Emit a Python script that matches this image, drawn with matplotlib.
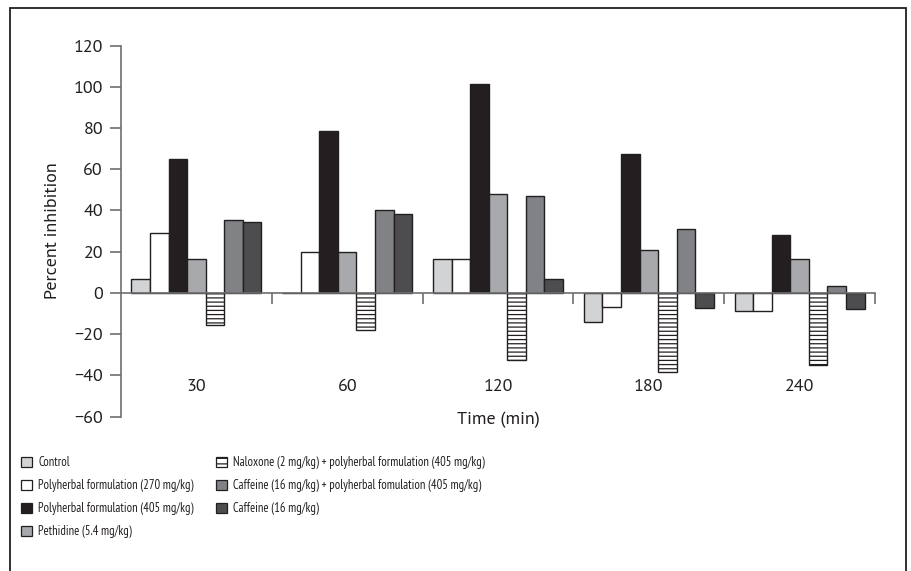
import matplotlib.pyplot as plt
from matplotlib.patches import Patch, Rectangle
import numpy as np

times = ['30', '60', '120', '180', '240']
labels = [
    'Control',
    'Polyherbal formulation (270 mg/kg)',
    'Polyherbal formulation (405 mg/kg)',
    'Pethidine (5.4 mg/kg)',
    'Naloxone (2 mg/kg) + polyherbal formulation (405 mg/kg)',
    'Caffeine (16 mg/kg) + polyherbal fomulation (405 mg/kg)',
    'Caffeine (16 mg/kg)',
]
control = [7, 0, 16.5, -14, -8.7]
poly270 = [29.3, 20, 16.5, -7, -8.7]
poly405 = [65, 78.8, 101.5, 67.5, 28]
pethidine = [16.5, 20, 48, 21, 16.5]
naloxone = [-15.4, -18, -32.5, -38.3, -35]
caffeine_poly = [35.2, 40.3, 47, 31, 3.4]
caffeine = [34.5, 38.3, 6.6, -7.1, -7.9]

series = [control, poly270, poly405, pethidine, naloxone, caffeine_poly, caffeine]
colors = ['#d1d3d4', '#ffffff', '#231f20', '#a7a9ac', '#ffffff', '#808285', '#4d4d4f']
hatches = [None, None, None, None, '----', None, None]

plt.rcParams['font.family'] = ['PT Sans', 'Open Sans', 'DejaVu Sans']
plt.rcParams['hatch.linewidth'] = 0.9
edge = '#231f20'
axis_col = '#6d6e71'
text_col = '#231f20'

fig = plt.figure(figsize=(9.12, 5.71), dpi=100)
ax = fig.add_axes([121 / 912, 154.4 / 571, 754 / 912, 371 / 571])

x = np.arange(len(times))
w = 0.123
for i, vals in enumerate(series):
    ax.bar(x + (i - 3) * w, vals, w, color=colors[i], edgecolor=edge,
           linewidth=1.0, hatch=hatches[i], zorder=2)

ax.set_xlim(-0.5, 4.5)
ax.set_ylim(-60, 120)
ax.set_yticks(np.arange(-60, 121, 20))
ax.spines['top'].set_visible(False)
ax.spines['right'].set_visible(False)
ax.spines['bottom'].set_position(('data', 0))
for s in ['left', 'bottom']:
    ax.spines[s].set_color(axis_col)
    ax.spines[s].set_linewidth(1.2)
ax.spines['bottom'].set_zorder(3)

ax.set_xticks(x)
ax.set_xticklabels(times)
ax.set_xticks(np.arange(0.5, 5, 1), minor=True)
ax.tick_params(axis='x', which='major', length=0, pad=62, labelsize=13, colors=text_col)
ax.tick_params(axis='x', which='minor', length=8, width=1.2, color=axis_col, direction='out')
ax.tick_params(axis='y', length=8, width=1.2, color=axis_col, pad=5, labelsize=13,
               labelcolor=text_col)
ax.set_xlabel('Time (min)', fontsize=13, labelpad=12, color=text_col)
ax.set_ylabel('Percent inhibition', fontsize=13, labelpad=9, color=text_col)

handles = [Patch(facecolor=colors[i], edgecolor=edge, hatch=('---' if hatches[i] else None),
                 linewidth=0.9) for i in range(len(labels))]
leg_kw = dict(frameon=False, handlelength=0.85, handleheight=0.85,
              handletextpad=0.55, labelspacing=0.8, borderpad=0, borderaxespad=0,
              labelcolor=text_col,
              prop={'family': ['PT Sans Narrow', 'Roboto Condensed', 'DejaVu Sans'],
                    'size': 9})
leg1 = fig.legend(handles[:4], labels[:4], loc='upper left',
                  bbox_to_anchor=(21 / 912, 1 - 456 / 571), **leg_kw)
leg2 = fig.legend(handles[4:], labels[4:], loc='upper left',
                  bbox_to_anchor=(216 / 912, 1 - 456 / 571), **leg_kw)

frame = Rectangle((10.5 / 912, -0.1), (906 - 10.5) / 912, 1.1 - 8 / 571,
                  transform=fig.transFigure, fill=False, edgecolor='#231f20', linewidth=1.3)
fig.patches.append(frame)

fig.savefig('out.png', dpi=100)
